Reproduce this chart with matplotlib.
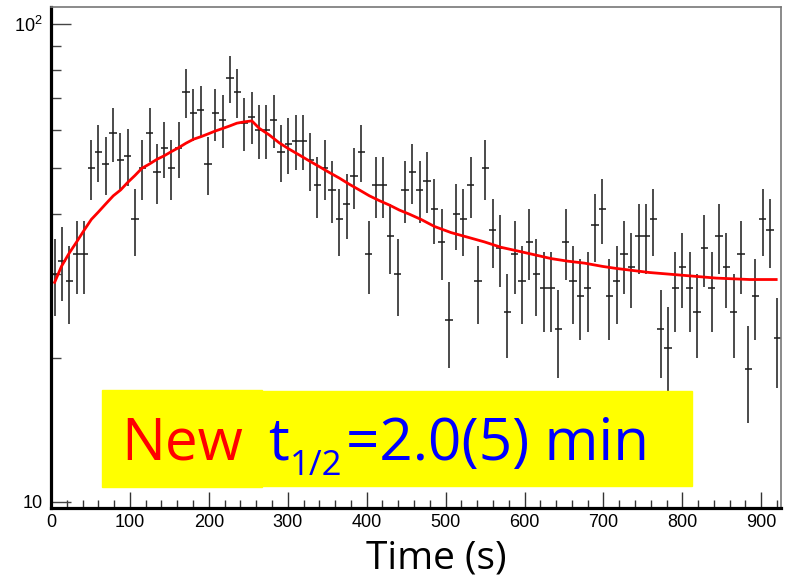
import numpy as np
import matplotlib.pyplot as plt
from matplotlib.patches import Rectangle
from matplotlib.ticker import FixedLocator, FixedFormatter, MultipleLocator, NullFormatter

plt.rcParams['font.family'] = ['Liberation Sans', 'DejaVu Sans']
plt.rcParams['mathtext.fontset'] = 'custom'
plt.rcParams['mathtext.rm'] = 'Liberation Sans'

# histogram: 100 bins of 9.25 s
bin_width = 9.25
counts = [30, 32, 29, 33, 33, 50, 54, 51, 59, 52,
          53, 39, 50, 59, 49, 55, 50, 55, 72, 65,
          66, 51, 65, 63, 77, 72, 62, 64, 60, 60,
          63, 54, 56, 57, 57, 52, 46, 50, 45, 39,
          42, 48, 54, 33, 46, 46, 36, 30, 45, 49,
          45, 47, 41, 35, 24, 40, 39, 46, 29, 50,
          37, 34, 25, 33, 29, 35, 30, 28, 28, 23,
          35, 29, 27, 28, 38, 41, 27, 29, 33, 31,
          36, 36, 39, 23, 21, 28, 31, 28, 25, 34,
          28, 36, 31, 25, 33, 19, 27, 39, 37, 22]

# fitted curve
fit_t = [4.6, 13.2, 22.8, 32.5, 41.4, 51.1, 59.9, 69.2, 78.9, 88.2,
         97.1, 106.4, 115.2, 124.5, 134.2, 143.5, 152.8, 161.7, 171.0, 180.7,
         190.0, 199.3, 208.1, 217.0, 226.7, 235.5, 245.0, 254.5, 263.8, 276.5,
         289.2, 301.9, 314.6, 327.3, 339.9, 352.6, 365.3, 378.0, 390.7, 403.4,
         416.0, 428.7, 441.4, 454.1, 468.9, 485.9, 507.0, 528.0, 549.2, 570.3,
         591.4, 612.5, 633.6, 654.7, 675.8, 699.0, 716.3, 737.4, 758.5, 779.6,
         800.7, 821.8, 842.9, 864.0, 885.1, 918.9]
fit_v = [28.8, 31.1, 33.1, 35.0, 36.9, 39.0, 40.4, 42.0, 43.7, 44.95,
         46.6, 48.2, 49.9, 50.9, 52.1, 53.0, 54.1, 55.1, 56.3, 57.4,
         58.1, 58.9, 59.7, 60.4, 61.2, 62.0, 62.4, 62.7, 60.5, 58.6,
         56.4, 54.7, 53.2, 51.7, 50.3, 48.9, 47.6, 46.2, 44.95, 43.7,
         42.7, 41.8, 40.8, 40.0, 39.0, 37.7, 36.6, 35.8, 35.0, 34.1,
         33.5, 32.9, 32.3, 31.9, 31.6, 31.1, 30.8, 30.5, 30.2, 30.0,
         29.8, 29.6, 29.4, 29.3, 29.2, 29.2]

centers = bin_width * (np.arange(len(counts)) + 0.5)
errors = np.sqrt(counts)  # poisson errors, as drawn by ROOT

W, H = 790, 580
fig = plt.figure(figsize=(W / 100, H / 100), dpi=100)
ax = fig.add_axes([51 / W, (H - 508) / H, (781 - 51) / W, (508 - 7) / H])

ax.errorbar(centers, counts, xerr=bin_width / 2, yerr=errors, fmt='none',
            ecolor='#1a1a1a', elinewidth=1.1, capsize=0)
ax.plot(fit_t, fit_v, color='red', lw=2.0)

ax.set_yscale('log')
ax.set_xlim(0, 925)
ax.set_ylim(9.715, 108.5)

ax.yaxis.set_major_locator(FixedLocator([10, 100]))
ax.yaxis.set_major_formatter(FixedFormatter(['10', '$10^2$']))
ax.yaxis.set_minor_locator(FixedLocator([20, 30, 40, 50, 60, 70, 80, 90]))
ax.yaxis.set_minor_formatter(NullFormatter())
ax.xaxis.set_major_locator(MultipleLocator(100))
ax.xaxis.set_minor_locator(MultipleLocator(20))

ax.tick_params(axis='y', which='major', direction='in', length=14.4, width=1, color='#444', pad=6, labelsize=13)
ax.tick_params(axis='y', which='minor', direction='in', length=7.2, width=1, color='#444')
ax.tick_params(axis='x', which='major', direction='in', length=11.5, width=1, color='#333', pad=4, labelsize=13)
ax.tick_params(axis='x', which='minor', direction='in', length=5.8, width=1, color='#333')

for s in ['left', 'bottom']:
    ax.spines[s].set_linewidth(2.3)
    ax.spines[s].set_color('black')
for s in ['top', 'right']:
    ax.spines[s].set_linewidth(1.2)
    ax.spines[s].set_color('#777777')

# yellow label boxes
fig.patches.append(Rectangle((102 / W, (H - 487) / H), 160 / W, 97 / H,
                             transform=fig.transFigure, color='#ffff00', zorder=5))
fig.patches.append(Rectangle((260 / W, (H - 486) / H), 432 / W, 95 / H,
                             transform=fig.transFigure, color='#ffff00', zorder=5))

fam = ['Open Sans', 'DejaVu Sans']
fig.text(121 / W, (H - 460) / H, 'New', color='red', fontsize=42, family=fam, va='baseline', zorder=6)
fig.text(268 / W, (H - 460) / H, 't', color='blue', fontsize=42, family=fam, va='baseline', zorder=6)
fig.text(290 / W, (H - 475) / H, '1/2', color='blue', fontsize=25, family=fam, va='baseline', zorder=6)
fig.text(346 / W, (H - 460) / H, '=2.0(5) min', color='blue', fontsize=42, family=fam, va='baseline', zorder=6)

fig.text(436 / W, (H - 568) / H, 'Time (s)', fontsize=28, family=fam, ha='center', va='baseline')

fig.savefig('out.png', dpi=100)
